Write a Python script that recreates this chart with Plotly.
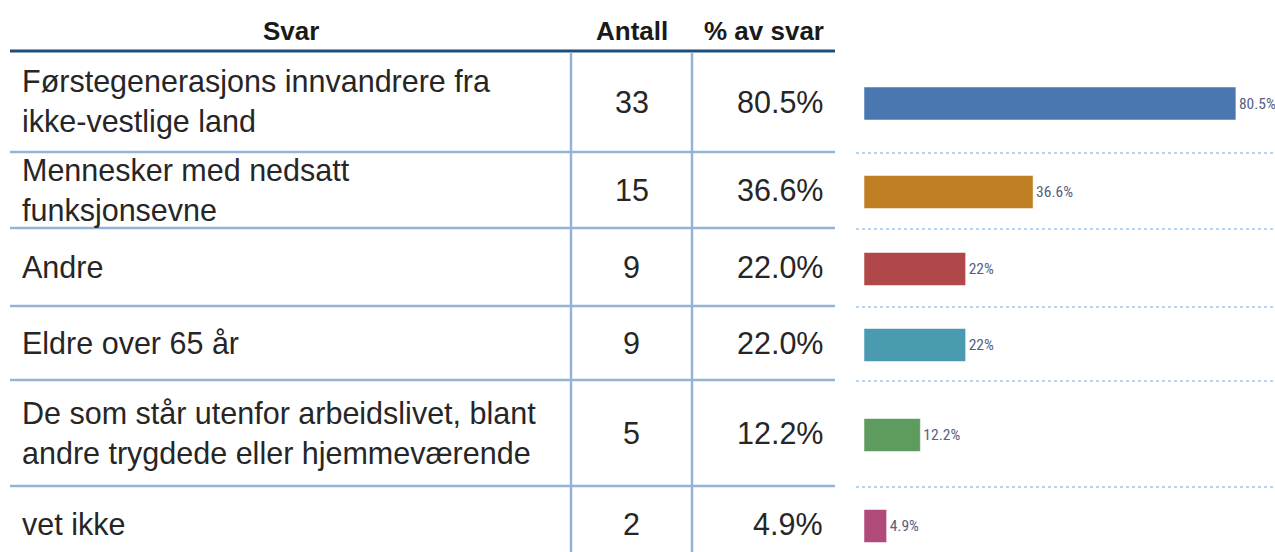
import plotly.graph_objects as go

# ---- data ----
categories = [
    "Førstegenerasjons innvandrere fra<br>ikke-vestlige land",
    "Mennesker med nedsatt<br>funksjonsevne",
    "Andre",
    "Eldre over 65 år",
    "De som står utenfor arbeidslivet, blant<br>andre trygdede eller hjemmeværende",
    "vet ikke",
]
antall = [33, 15, 9, 9, 5, 2]
prosent = [80.5, 36.6, 22.0, 22.0, 12.2, 4.9]
bar_colors = ["#4a77b0", "#c07e22", "#b0484a", "#4a9ab0", "#5e9b5e", "#b04a78"]
headers = ["Svar", "Antall", "% av svar"]

# ---- layout constants (pixels) ----
W, H = 1275, 552
header_line_y = 51
row_heights = [101, 76, 78, 74, 106, 76]
x_left, x_v1, x_v2, x_right = 10, 571, 692, 835
bar_x0_px, px_per_pct = 864, 4.62

bounds = [header_line_y]
for h in row_heights:
    bounds.append(bounds[-1] + h)
bar_centers = [(bounds[i] + bounds[i + 1]) / 2 + 2 for i in range(len(categories))]

def px(x):
    return x / W

fig = go.Figure()
fig.add_trace(go.Bar(
    x=prosent, y=bar_centers, orientation="h",
    width=33,
    marker=dict(color=bar_colors, line=dict(color="rgba(255,255,255,0.5)", width=1)),
    text=[f"{v:g}%" for v in prosent],
    textposition="outside",
    cliponaxis=False,
    textfont=dict(family="Liberation Sans Narrow, Roboto Condensed, Arial Narrow, Liberation Sans", size=15.5, color="#556080"),
    hoverinfo="skip",
))

xmax = (W - bar_x0_px) / px_per_pct
fig.update_layout(
    width=W, height=H,
    margin=dict(l=0, r=0, t=0, b=0),
    paper_bgcolor="white", plot_bgcolor="white",
    showlegend=False,
    xaxis=dict(domain=[bar_x0_px / W, 1], range=[0, xmax], visible=False),
    yaxis=dict(domain=[0, 1], range=[H, 0], visible=False),
)

text_font = dict(family="Liberation Sans, Arial", size=30.5, color="#262626")
head_font = dict(family="Liberation Sans, Arial", size=26, color="#1a1a1a")

# headers
head_y = 31
for txt, xc in zip(headers, [(x_left + x_v1) / 2, (x_v1 + x_v2) / 2, (x_v2 + x_right) / 2]):
    fig.add_annotation(x=px(xc), y=head_y, xref="paper", yref="y", text=f"<b>{txt}</b>",
                       showarrow=False, font=head_font, xanchor="center", yanchor="middle")

# cells
for i, c in enumerate(categories):
    yc = bounds[i] + row_heights[i] / 2
    fig.add_annotation(x=px(20), y=yc, xref="paper", yref="y", text=c, showarrow=False,
                       font=text_font, xanchor="left", yanchor="middle", align="left")
    fig.add_annotation(x=px((x_v1 + x_v2) / 2), y=yc, xref="paper", yref="y", text=str(antall[i]),
                       showarrow=False, font=text_font, xanchor="center", yanchor="middle")
    fig.add_annotation(x=px(825), y=yc, xref="paper", yref="y", text=f"{prosent[i]:.1f}%",
                       showarrow=False, font=text_font, xanchor="right", yanchor="middle")

# table lines
fig.add_shape(type="line", xref="paper", yref="y", x0=px(x_left), x1=px(x_right),
              y0=header_line_y, y1=header_line_y, line=dict(color="#1f4e79", width=3))
for b in bounds[1:-1]:
    fig.add_shape(type="line", xref="paper", yref="y", x0=px(x_left), x1=px(x_right),
                  y0=b, y1=b, line=dict(color="#95b3d7", width=2.5))
    fig.add_shape(type="line", xref="paper", yref="y", x0=px(856), x1=1,
                  y0=b + 1, y1=b + 1, line=dict(color="#9ec6ea", width=1.5, dash="dot"))
for xv in [x_v1, x_v2]:
    fig.add_shape(type="line", xref="paper", yref="y", x0=px(xv), x1=px(xv),
                  y0=header_line_y + 1, y1=H, line=dict(color="#95b3d7", width=2.5))

fig.write_html("out.html", config={"displayModeBar": False},
               post_script="document.body.style.margin='0px';document.body.style.overflow='hidden';")
